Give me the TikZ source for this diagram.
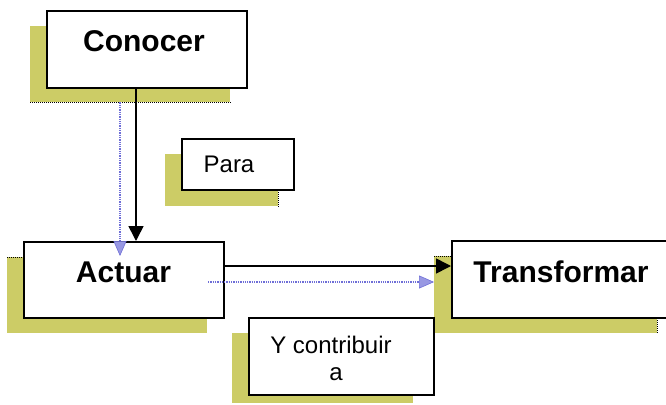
\documentclass[tikz,border=0pt]{standalone}
\usepackage{fontspec}
\setmainfont{Liberation Sans}
\usetikzlibrary{arrows.meta}
\definecolor{shadowcol}{RGB}{204,204,102}
\definecolor{bluedot}{RGB}{110,110,215}
\tikzset{
  x=1pt, y=-1pt,
  shadowbox/.style={fill=shadowcol, draw=none, inner sep=0pt, anchor=north west},
  whitebox/.style={fill=white, draw=black, line width=1.6pt, inner sep=0pt, anchor=north west},
  bigtxt/.style={font=\fontsize{30}{36}\selectfont\bfseries, inner sep=0pt, anchor=base},
  smalltxt/.style={font=\fontsize{24}{28}\selectfont, inner sep=0pt, anchor=base},
  blackarrow/.style={draw=black, line width=1.6pt, -{Triangle[length=15pt,width=15pt]}},
  bluearrow/.style={draw=bluedot, line width=1.3pt, densely dotted, -{Triangle[length=15pt,width=13pt,color=bluedot,fill=bluedot!70,line width=0.6pt]}},
  dotedge/.style={draw=black, line width=1pt, densely dotted}
}
\begin{document}
\begin{tikzpicture}
\useasboundingbox (0,0) rectangle (666,404);
\clip (0,0) rectangle (666,404);
% shadows
\node[shadowbox, minimum width=200pt, minimum height=76pt] (conshadow) at (30,26) {};
\node[shadowbox, minimum width=113pt, minimum height=52pt] (parashadow) at (165,154) {};
\node[shadowbox, minimum width=200pt, minimum height=76pt] (actshadow) at (7,257) {};
\node[shadowbox, minimum width=223pt, minimum height=77pt] (transshadow) at (434,256) {};
\node[shadowbox, minimum width=181pt, minimum height=70pt] (yshadow) at (232,333) {};
% dotted shadow edges
\draw[dotedge] (conshadow.south west) -- (conshadow.south east);
\draw[dotedge] (parashadow.north east) -- (parashadow.south east);
\draw[dotedge] (actshadow.north west) -- (actshadow.north east);
\draw[dotedge] (transshadow.north west) -- (transshadow.north east);
\draw[dotedge] (transshadow.north east) -- (transshadow.south east);
% white boxes
\node[whitebox, minimum width=200pt, minimum height=77pt] (conocer) at (46,10) {};
\node[whitebox, minimum width=112pt, minimum height=51pt] (para) at (181,138) {};
\node[whitebox, minimum width=200pt, minimum height=76pt] (actuar) at (23,241) {};
\node[whitebox, minimum width=230pt, minimum height=77pt] (transformar) at (451,240) {};
\node[whitebox, minimum width=185pt, minimum height=77pt] (ycontrib) at (248,317) {};
% texts
\node[bigtxt] (tconocer) at (144,52) {Conocer};
\node[smalltxt] (tpara) at (229,172) {Para};
\node[bigtxt] (tactuar) at (123.5,282) {Actuar};
\node[bigtxt] (ttransformar) at (561,282) {Transformar};
\node[smalltxt] (ty1) at (331,353) {Y contribuir};
\node[smalltxt] (ty2) at (336,380) {a};
% connectors
\draw[blackarrow] (conocer.south -| 136,0) -- (actuar.north -| 136,0);
\coordinate (bluevend) at (120,256);
\draw[bluearrow] (conshadow.south -| 120,0) -- (bluevend);
\coordinate (blackhstart) at (225,266);
\draw[blackarrow] (blackhstart) -- (transformar.west |- blackhstart);
\coordinate (bluehstart) at (208,282);
\draw[bluearrow] (bluehstart) -- (transshadow.west |- bluehstart);
\end{tikzpicture}
\end{document}
